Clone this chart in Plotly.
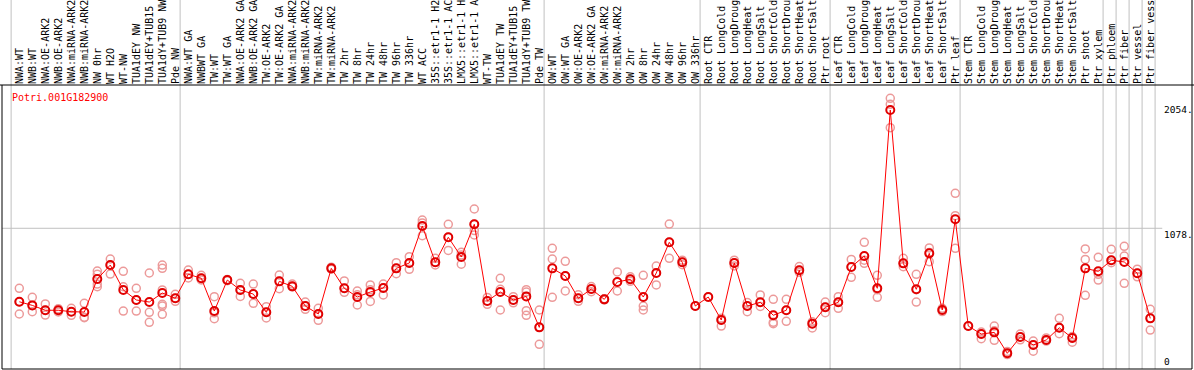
import plotly.graph_objects as go

title = "Potri.001G182900"

labels = [
    "NWA:WT", "NWB:WT", "NWA:OE-ARK2", "NWB:OE-ARK2", "NWA:miRNA-ARK2", "NWB:miRNA-ARK2",
    "NW 0hr", "WT H2O", "WT-NW", "TUA1dEY NW", "TUA1dEY+TUB15", "TUA1dY+TUB9 NW", "Pde NW",
    "NWA:WT GA", "NWBWT GA", "TW:WT", "TW:WT GA", "NWA:OE-ARK2 GA", "NWB:OE-ARK2 GA",
    "TW:OE-ARK2", "TW:OE-ARK2 GA", "NWA:miRNA-ARK2", "NWB:miRNA-ARK2", "TW:miRNA-ARK2",
    "TW:miRNA-ARK2", "TW 2hr", "TW 8hr", "TW 24hr", "TW 48hr", "TW 96hr", "TW 336hr",
    "WT ACC", "35S::etr1-1 H2", "35S::etr1-1 AC", "LMX5::etr1-1 H", "LMX5::etr1-1 A",
    "WT-TW", "TUA1dEY TW", "TUA1dEY+TUB15", "TUA1dY+TUB9 TW", "Pde TW",
    "OW:WT", "OW:WT GA", "OW:OE-ARK2", "OW:OE-ARK2 GA", "OW:miRNA-ARK2", "OW:miRNA-ARK2",
    "OW 2hr", "OW 8hr", "OW 24hr", "OW 48hr", "OW 96hr", "OW 336hr",
    "Root CTR", "Root LongCold", "Root LongDroug", "Root LongHeat", "Root LongSalt",
    "Root ShortCold", "Root ShortDrou", "Root ShortHeat", "Root ShortSalt", "Ptr root",
    "Leaf CTR", "Leaf LongCold", "Leaf LongDroug", "Leaf LongHeat", "Leaf LongSalt",
    "Leaf ShortCold", "Leaf ShortDrou", "Leaf ShortHeat", "Leaf ShortSalt", "Ptr leaf",
    "Stem CTR", "Stem LongCold", "Stem LongDroug", "Stem LongHeat", "Stem LongSalt",
    "Stem ShortCold", "Stem ShortDrou", "Stem ShortHeat", "Stem ShortSalt",
    "Ptr shoot", "Ptr xylem", "Ptr phloem", "Ptr fiber", "Ptr vessel", "Ptr fiber vess",
]

means = [
    506, 478, 440, 440, 429, 426, 683, 792, 598, 520, 504, 574, 533,
    720, 689, 434, 675, 598, 566, 424, 665, 626, 473, 411, 766, 611, 543, 582, 613,
    766, 808, 1096, 813, 1008, 855, 1109, 512, 582, 520, 548, 307,
    766, 707, 533, 605, 525, 660, 681, 543, 730, 969, 813,
    473, 543, 364, 808, 473, 502, 401, 440, 751, 336, 463,
    502, 777, 862, 611, 1998, 805, 603, 883, 442, 1148,
    317, 255, 268, 105, 232, 170, 209, 304, 224, 766, 743,
    829, 816, 728, 377,
]

replicates = [
    [611, 506, 411], [541, 478, 429], [489, 440, 403], [452, 440, 427], [455, 429, 401],
    [494, 386, 382], [745, 720, 644, 623], [839, 792, 722], [743, 623, 434], [611, 520, 434],
    [730, 424, 346], [792, 766, 598, 486, 473, 408], [564, 533, 510],
    [753, 720, 692], [712, 689, 676], [546, 420, 374], [680, 675, 670], [650, 598, 548],
    [644, 566, 494], [468, 424, 380], [714, 665, 608], [644, 626, 621], [504, 473, 447],
    [455, 411, 362], [775, 766, 760], [668, 611, 580], [590, 560, 481], [637, 600, 509],
    [644, 613, 559], [810, 766, 725], [857, 808, 759], [1142, 1120, 1020], [844, 813, 793],
    [1109, 1008, 906], [891, 870, 798], [1228, 1109, 1060, 1026], [540, 512, 486],
    [689, 603, 442], [546, 520, 498], [600, 582, 548, 437, 401], [442, 307, 175],
    [922, 839, 541], [821, 707, 590], [560, 533, 510], [625, 605, 585], [530, 525, 520],
    [738, 660, 590], [700, 681, 665], [712, 473, 442], [784, 730, 637], [1111, 969, 844],
    [830, 813, 795], [473], [543], [378, 364, 317], [830, 808, 785], [500, 473, 429],
    [559, 502, 470], [525, 401, 346, 335], [525, 440, 354], [780, 751, 735],
    [350, 336, 302], [504, 463, 421], [546, 502, 455], [836, 777, 696], [969, 830, 805],
    [712, 611, 600, 541], [2089, 2043, 1861], [844, 805, 779], [720, 600, 504],
    [925, 890, 818], [455, 442, 430], [1350, 1176, 922], [317], [270, 255, 219],
    [317, 280, 206], [120, 105, 95], [255, 232, 210], [200, 170, 121], [225, 209, 200],
    [377, 304, 258], [235, 224, 191], [917, 836, 556], [852, 720, 675], [914, 830, 810],
    [938, 862, 650], [760, 728, 700], [447, 377, 286],
]

group_ends = [0, 13, 41, 53, 63, 73, 84, 85, 86, 87, 88]
axis_ticks = [0, 1078, 2054]
axis_ticktext = ["0", "1078.", "2054."]

x = list(range(1, len(labels) + 1))
rep_x, rep_y = [], []
for xi, reps in zip(x, replicates):
    for r in reps:
        rep_x.append(xi)
        rep_y.append(r)

MONO = "DejaVu Sans Mono"

fig = go.Figure()
fig.add_trace(go.Scatter(
    x=rep_x, y=rep_y, mode="markers",
    marker=dict(symbol="circle-open", size=8, color="#ec9a9a", line=dict(width=1.5)),
    hoverinfo="skip", showlegend=False,
))
fig.add_trace(go.Scatter(
    x=x, y=means, mode="lines+markers",
    line=dict(color="#ff0000", width=1),
    marker=dict(symbol="circle-open", size=8, color="#e00000", line=dict(width=2)),
    showlegend=False,
))

shapes = []
for g in group_ends:
    shapes.append(dict(type="line", xref="x", yref="paper", x0=g + 0.37, x1=g + 0.37,
                       y0=0, y1=1.35, line=dict(color="#c0c0c0", width=1), layer="below"))
shapes.append(dict(type="line", xref="paper", yref="y", x0=0, x1=0.975, y0=1078, y1=1078,
                   line=dict(color="#c0c0c0", width=1), layer="below"))
# frame
shapes.append(dict(type="line", xref="paper", yref="paper", x0=-0.01, x1=1.01, y0=1, y1=1,
                   line=dict(color="black", width=1)))
shapes.append(dict(type="line", xref="paper", yref="paper", x0=0, x1=1, y0=0, y1=0,
                   line=dict(color="black", width=1)))
shapes.append(dict(type="line", xref="paper", yref="paper", x0=0, x1=0, y0=0, y1=1,
                   line=dict(color="black", width=1)))
shapes.append(dict(type="line", xref="paper", yref="paper", x0=1, x1=1, y0=0, y1=1.35,
                   line=dict(color="black", width=1)))

annotations = [dict(xref="paper", yref="paper", x=0.0067, y=1, xanchor="left", yanchor="top",
                    yshift=-5, text=title, showarrow=False,
                    font=dict(family=MONO, size=10, color="#ff0000"))]
for v, t in zip(axis_ticks, axis_ticktext):
    if v == 0:
        annotations.append(dict(xref="paper", yref="y", x=0.9745, y=v, xanchor="left",
                                yanchor="bottom", yshift=-2, text=t, showarrow=False,
                                font=dict(family=MONO, size=9.5, color="black")))
    else:
        annotations.append(dict(xref="paper", yref="y", x=0.9745, y=v, xanchor="left",
                                yanchor="top", yshift=1, text=t, showarrow=False,
                                font=dict(family=MONO, size=9.5, color="black")))

fig.update_layout(
    width=1194, height=370,
    margin=dict(l=2, r=2, t=85, b=1, autoexpand=False),
    paper_bgcolor="white", plot_bgcolor="white",
    shapes=shapes, annotations=annotations,
    xaxis=dict(range=[-0.331, 91.21], side="top", tickmode="array", tickvals=x,
               ticktext=labels, tickangle=-90, ticks="", showgrid=False, zeroline=False,
               showline=False, automargin=False,
               tickfont=dict(family=MONO, size=10, color="black")),
    yaxis=dict(range=[-17.1, 2193], showticklabels=False, showgrid=False, zeroline=False,
               showline=False, ticks="", automargin=False),
)

fig.write_html("out.html", config={"displayModeBar": False},
               post_script="document.body.style.margin='0px';document.body.style.padding='0px';")
